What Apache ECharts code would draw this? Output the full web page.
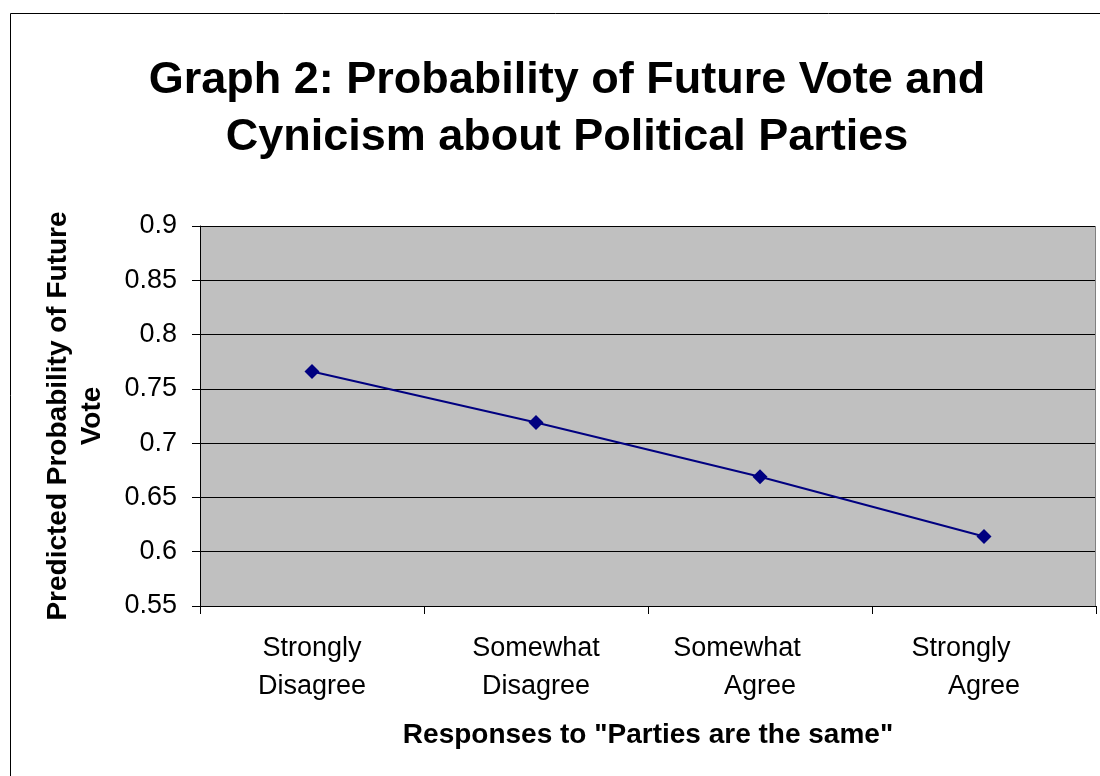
<!DOCTYPE html>
<html><head><meta charset="utf-8">
<script src="https://cdn.jsdelivr.net/npm/echarts@6/dist/echarts.min.js"></script>
<style>html,body{margin:0;padding:0;background:#fff}#c{width:1100px;height:776px}</style>
</head><body><div id="c"></div>
<script>
const categories = ['Strongly\nDisagree', 'Somewhat\nDisagree', 'Somewhat\nAgree', 'Strongly\nAgree'];
const probabilities = [0.766, 0.719, 0.669, 0.614];
const yTicks = { min: 0.55, max: 0.9, interval: 0.05 };
const titleText = 'Graph 2: Probability of Future Vote and\nCynicism about Political Parties';
const xName = 'Responses to "Parties are the same"';
const yName = 'Predicted Probability of Future\nVote';

const chart = echarts.init(document.getElementById('c'), null, { renderer: 'canvas' });
const F = 'Liberation Sans, Arial, sans-serif';
const lblStyle = { fontFamily: F, fontSize: 27, color: '#000', lineHeight: 38 };
chart.setOption({
  animation: false,
  backgroundColor: '#fff',
  graphic: [
    { type: 'rect', shape: { x: 10.5, y: 13.5, width: 1200, height: 900 }, style: { fill: 'none', stroke: '#000', lineWidth: 1 }, z: 0 },
    { type: 'line', shape: { x1: 1095.5, y1: 226, x2: 1095.5, y2: 606 }, style: { stroke: '#808080', lineWidth: 1 }, z: 5 }
  ],
  title: {
    text: titleText, left: 562, top: 47, textAlign: 'center',
    textStyle: { fontFamily: F, fontSize: 45, fontWeight: 'bold', color: '#000', lineHeight: 57 }
  },
  grid: { left: 200, top: 226, width: 896, height: 380, show: true, backgroundColor: '#c0c0c0', borderWidth: 0 },
  xAxis: {
    type: 'category', data: categories, boundaryGap: true,
    name: xName, nameLocation: 'middle', nameGap: 114,
    nameTextStyle: { fontFamily: F, fontSize: 28, fontWeight: 'bold', color: '#000', lineHeight: 30 },
    axisLine: { lineStyle: { color: '#000', width: 1 } },
    axisTick: { show: true, length: 8, inside: false, lineStyle: { color: '#000' } },
    axisLabel: {
      fontFamily: F, fontSize: 27, color: '#000', lineHeight: 38, margin: 24,
      formatter: (v, i) => {
        const parts = v.split('\n');
        return (i >= 2 ? '{s|' + parts[0] + '}' : '{n|' + parts[0] + '}') + '\n{n|' + parts[1] + '}';
      },
      rich: {
        n: lblStyle,
        s: Object.assign({}, lblStyle, { padding: [0, 46, 0, 0] })
      }
    },
    splitLine: { show: false }
  },
  yAxis: {
    type: 'value', min: yTicks.min, max: yTicks.max, interval: yTicks.interval,
    name: yName, nameLocation: 'middle', nameGap: 91, nameRotate: 90,
    nameTextStyle: { fontFamily: F, fontSize: 28, fontWeight: 'bold', color: '#000', lineHeight: 34 },
    axisLine: { show: true, lineStyle: { color: '#000', width: 1 } },
    axisTick: { show: true, length: 8, lineStyle: { color: '#000' } },
    axisLabel: { fontFamily: F, fontSize: 27, color: '#000', margin: 23, formatter: v => String(+v.toFixed(2)) },
    splitLine: { show: true, lineStyle: { color: '#000', width: 1 } }
  },
  series: [{
    type: 'line', data: probabilities,
    lineStyle: { color: '#000080', width: 2 },
    itemStyle: { color: '#000080' },
    symbol: 'diamond', symbolSize: 15, showSymbol: true
  }]
});
</script></body></html>
